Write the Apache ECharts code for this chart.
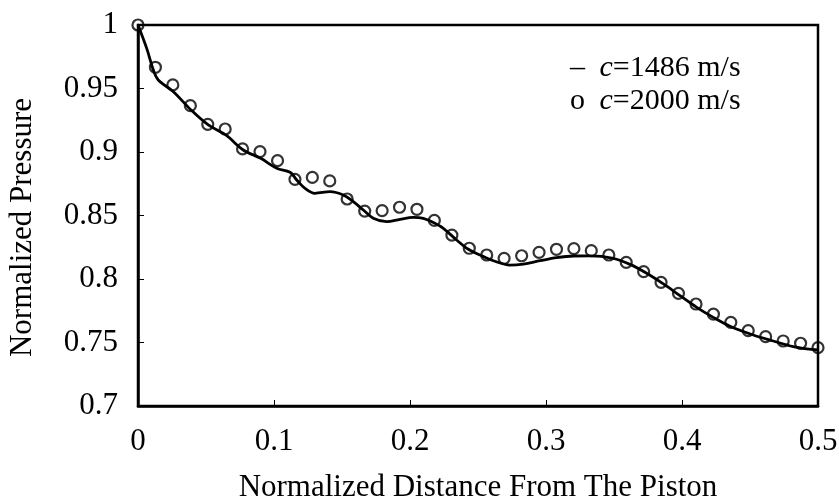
<!DOCTYPE html>
<html>
<head>
<meta charset="utf-8">
<script src="https://cdn.jsdelivr.net/npm/echarts@6/dist/echarts.min.js"></script>
<style>html,body{margin:0;padding:0;background:#fff}#c{width:839px;height:502px}</style>
</head>
<body>
<div id="c"></div>
<script>
// ---- data ----
var xTicks = ["0", "0.1", "0.2", "0.3", "0.4", "0.5"];
var yTicks = ["0.7", "0.75", "0.8", "0.85", "0.9", "0.95", "1"];
var seriesNames = ["c=1486 m/s", "c=2000 m/s"];

// solid curve, c = 1486 m/s
var lineX = [0, 0.0064, 0.0113, 0.0149, 0.026, 0.039, 0.0517, 0.0645, 0.0774, 0.0902,
  0.1020, 0.1118, 0.1167, 0.1228, 0.1301, 0.1412, 0.1510, 0.1583, 0.1657, 0.1730,
  0.1828, 0.1926, 0.2024, 0.2098, 0.2171, 0.2245, 0.2343, 0.2429, 0.2515, 0.2613,
  0.2735, 0.2833, 0.2956, 0.3078, 0.3201, 0.3324, 0.3495, 0.3618, 0.3740, 0.3863,
  0.3985, 0.4108, 0.4230, 0.4353, 0.4524, 0.4671, 0.4818, 0.4917, 0.5];
var lineY = [1.0, 0.9816, 0.9646, 0.9567, 0.9475, 0.9331, 0.9213, 0.9134, 0.9016, 0.8950,
  0.8872, 0.8840, 0.8780, 0.8714, 0.8675, 0.8688, 0.8661, 0.8609, 0.8543, 0.8478,
  0.8451, 0.8470, 0.8486, 0.8478, 0.8445, 0.8399, 0.8307, 0.8234, 0.8189, 0.8144,
  0.8110, 0.8118, 0.8144, 0.8168, 0.8181, 0.8182, 0.8163, 0.8115, 0.8045, 0.7961,
  0.7869, 0.7777, 0.7698, 0.7628, 0.7559, 0.7512, 0.7467, 0.7449, 0.7441];

// circles, c = 2000 m/s
var circleX = [0, 0.0128, 0.0256, 0.0385, 0.0513, 0.0641, 0.0769, 0.0897, 0.1026, 0.1154,
  0.1282, 0.1410, 0.1538, 0.1667, 0.1795, 0.1923, 0.2051, 0.2179, 0.2308, 0.2436,
  0.2564, 0.2692, 0.2821, 0.2949, 0.3077, 0.3205, 0.3333, 0.3462, 0.3590, 0.3718,
  0.3846, 0.3974, 0.4103, 0.4231, 0.4359, 0.4487, 0.4615, 0.4744, 0.4872, 0.5];
var circleY = [1.000, 0.9667, 0.9528, 0.9365, 0.9218, 0.9181, 0.9024, 0.9003, 0.8932, 0.8785,
  0.8800, 0.8772, 0.8630, 0.8535, 0.8538, 0.8565, 0.8549, 0.8461, 0.8346, 0.8242,
  0.8189, 0.8163, 0.8183, 0.8210, 0.8234, 0.8239, 0.8223, 0.8189, 0.8131, 0.8058,
  0.7974, 0.7887, 0.7803, 0.7724, 0.7659, 0.7593, 0.7546, 0.7512, 0.7494, 0.7459];

var xTitle = "Normalized Distance From The Piston";
var yTitle = "Normalized Pressure";

// ---- chart ----
var FONT = '"Liberation Serif", "Times New Roman", serif';
function pairs(xs, ys) { return xs.map(function (x, i) { return [x, ys[i]]; }); }

var chart = echarts.init(document.getElementById('c'), null, { renderer: 'canvas' });
chart.setOption({
  backgroundColor: '#fff',
  animation: false,
  textStyle: { fontFamily: FONT, color: '#000' },
  grid: { left: 138, right: 21, top: 25, bottom: 96, show: true, borderColor: '#000', borderWidth: 2.5,
    containLabel: false, outerBoundsMode: 'none' },
  legend: {
    data: seriesNames,
    orient: 'vertical',
    left: 560, top: 48,
    icon: 'none',
    itemWidth: 0, itemGap: 3,
    formatter: function (name) {
      var pre = name === seriesNames[0] ? '–' : 'o';
      return '{p|' + pre + '} {i|c}{t|' + name.substring(1) + '}';
    },
    textStyle: {
      fontFamily: FONT, fontSize: 30, color: '#000',
      rich: {
        p: { fontFamily: FONT, fontSize: 30, color: '#000', width: 22 },
        i: { fontFamily: FONT, fontSize: 30, color: '#000', fontStyle: 'italic' },
        t: { fontFamily: FONT, fontSize: 30, color: '#000' }
      }
    }
  },
  xAxis: {
    type: 'value', min: 0, max: 0.5, interval: 0.1,
    name: xTitle, nameLocation: 'middle', nameGap: 66,
    nameTextStyle: { fontFamily: FONT, fontSize: 31, color: '#000' },
    axisLine: { show: true, lineStyle: { color: '#000', width: 2.5 } },
    axisTick: { show: true, inside: true, length: 6, lineStyle: { color: '#000', width: 1 } },
    axisLabel: { fontFamily: FONT, fontSize: 31, color: '#000', margin: 20,
      formatter: function (v) { return xTicks[Math.round(v * 10)]; } },
    splitLine: { show: false }
  },
  yAxis: {
    type: 'value', min: 0.7, max: 1, interval: 0.05,
    name: yTitle, nameLocation: 'middle', nameGap: 100, nameRotate: 90,
    nameTextStyle: { fontFamily: FONT, fontSize: 31, color: '#000', padding: [0, 24, 0, 0] },
    axisLine: { show: true, lineStyle: { color: '#000', width: 2.5 } },
    axisTick: { show: true, inside: true, length: 6, lineStyle: { color: '#000', width: 1 } },
    axisLabel: { fontFamily: FONT, fontSize: 31, color: '#000', margin: 20,
      formatter: function (v) { return yTicks[Math.round((v - 0.7) / 0.05)]; } },
    splitLine: { show: false }
  },
  series: [
    {
      name: seriesNames[0], type: 'line', data: pairs(lineX, lineY),
      smooth: 0.35, symbol: 'none', clip: false,
      lineStyle: { color: '#000', width: 2.8 }, itemStyle: { color: '#000' }, z: 3
    },
    {
      name: seriesNames[1], type: 'scatter', data: pairs(circleX, circleY),
      symbol: 'circle', symbolSize: 11, clip: false,
      itemStyle: { color: 'rgba(0,0,0,0)', borderColor: '#000', borderWidth: 2.2 }, z: 4
    }
  ]
});
</script>
</body>
</html>
